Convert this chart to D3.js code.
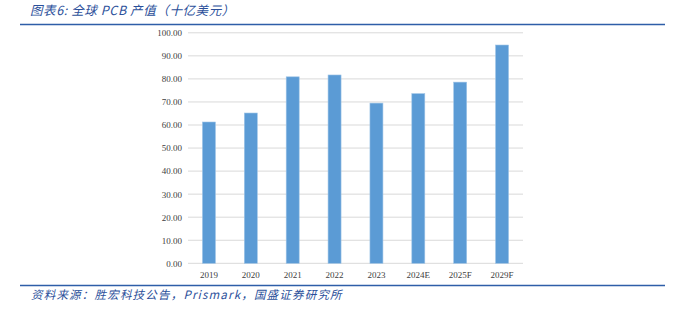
<!DOCTYPE html>
<html>
<head>
<meta charset="utf-8">
<script src="https://cdn.jsdelivr.net/npm/d3@7"></script>
<style>
body { margin: 0; background: #fff; }
</style>
</head>
<body>
<script>
// chart data
var years = ["2019", "2020", "2021", "2022", "2023", "2024E", "2025F", "2029F"];
var output = [61.3, 65.2, 80.9, 81.7, 69.5, 73.6, 78.6, 94.7];
var yTicks = [0, 10, 20, 30, 40, 50, 60, 70, 80, 90, 100];

var W = 675, H = 311;
var blue = "#2e5ea8";

var svg = d3.select("body").append("svg")
    .attr("width", W).attr("height", H);

// title + rules
svg.append("text")
    .attr("x", 30).attr("y", 15)
    .attr("font-family", "'Noto Sans CJK SC', sans-serif")
    .attr("font-size", 12.5).attr("font-style", "italic")
    .attr("letter-spacing", 0.6)
    .attr("fill", "#2b4f9a")
    .text("图表6:  全球 PCB 产值（十亿美元）");
svg.append("line")
    .attr("x1", 20).attr("x2", 665).attr("y1", 24.5).attr("y2", 24.5)
    .attr("stroke", blue).attr("stroke-width", 1.3);
svg.append("line")
    .attr("x1", 20).attr("x2", 665).attr("y1", 285.5).attr("y2", 285.5)
    .attr("stroke", blue).attr("stroke-width", 1.3);
svg.append("text")
    .attr("x", 31).attr("y", 299)
    .attr("font-family", "'Noto Sans CJK SC', sans-serif")
    .attr("font-size", 11.5).attr("font-style", "italic")
    .attr("letter-spacing", 1.2)
    .attr("fill", "#2b4f9a")
    .text("资料来源：胜宏科技公告，Prismark，国盛证券研究所");

// scales
var x = d3.scaleBand().domain(years).range([188, 523]).paddingInner(0.69).paddingOuter(0.345);
var y = d3.scaleLinear().domain([0, 100]).range([263.3, 32.8]);

// grid
svg.append("g").selectAll("line").data(yTicks).enter().append("line")
    .attr("x1", 188).attr("x2", 523)
    .attr("y1", function(d) { return y(d); }).attr("y2", function(d) { return y(d); })
    .attr("stroke", "#d9d9d9").attr("stroke-width", 1);

// y axis labels
var yAxis = svg.append("g").attr("transform", "translate(188,0)")
    .call(d3.axisLeft(y).tickValues(yTicks).tickSize(0).tickPadding(6)
        .tickFormat(function(d) { return d.toFixed(2); }));
yAxis.select(".domain").remove();
yAxis.selectAll("text")
    .attr("font-family", "'Liberation Serif', serif")
    .attr("font-size", 9).attr("fill", "#404040");

// bars
svg.append("g").selectAll("rect").data(output).enter().append("rect")
    .attr("x", function(d, i) { return x(years[i]); })
    .attr("width", x.bandwidth())
    .attr("y", function(d) { return y(d); })
    .attr("height", function(d) { return y(0) - y(d); })
    .attr("fill", "#5b9bd5")
    .attr("stroke", "#9dc3e6").attr("stroke-width", 0.6);

// x axis labels
var xAxis = svg.append("g").attr("transform", "translate(0," + y(0) + ")")
    .call(d3.axisBottom(x).tickSize(0).tickPadding(8));
xAxis.select(".domain").remove();
xAxis.selectAll("text")
    .attr("font-family", "'Liberation Serif', serif")
    .attr("font-size", 9).attr("fill", "#404040");
</script>
</body>
</html>
